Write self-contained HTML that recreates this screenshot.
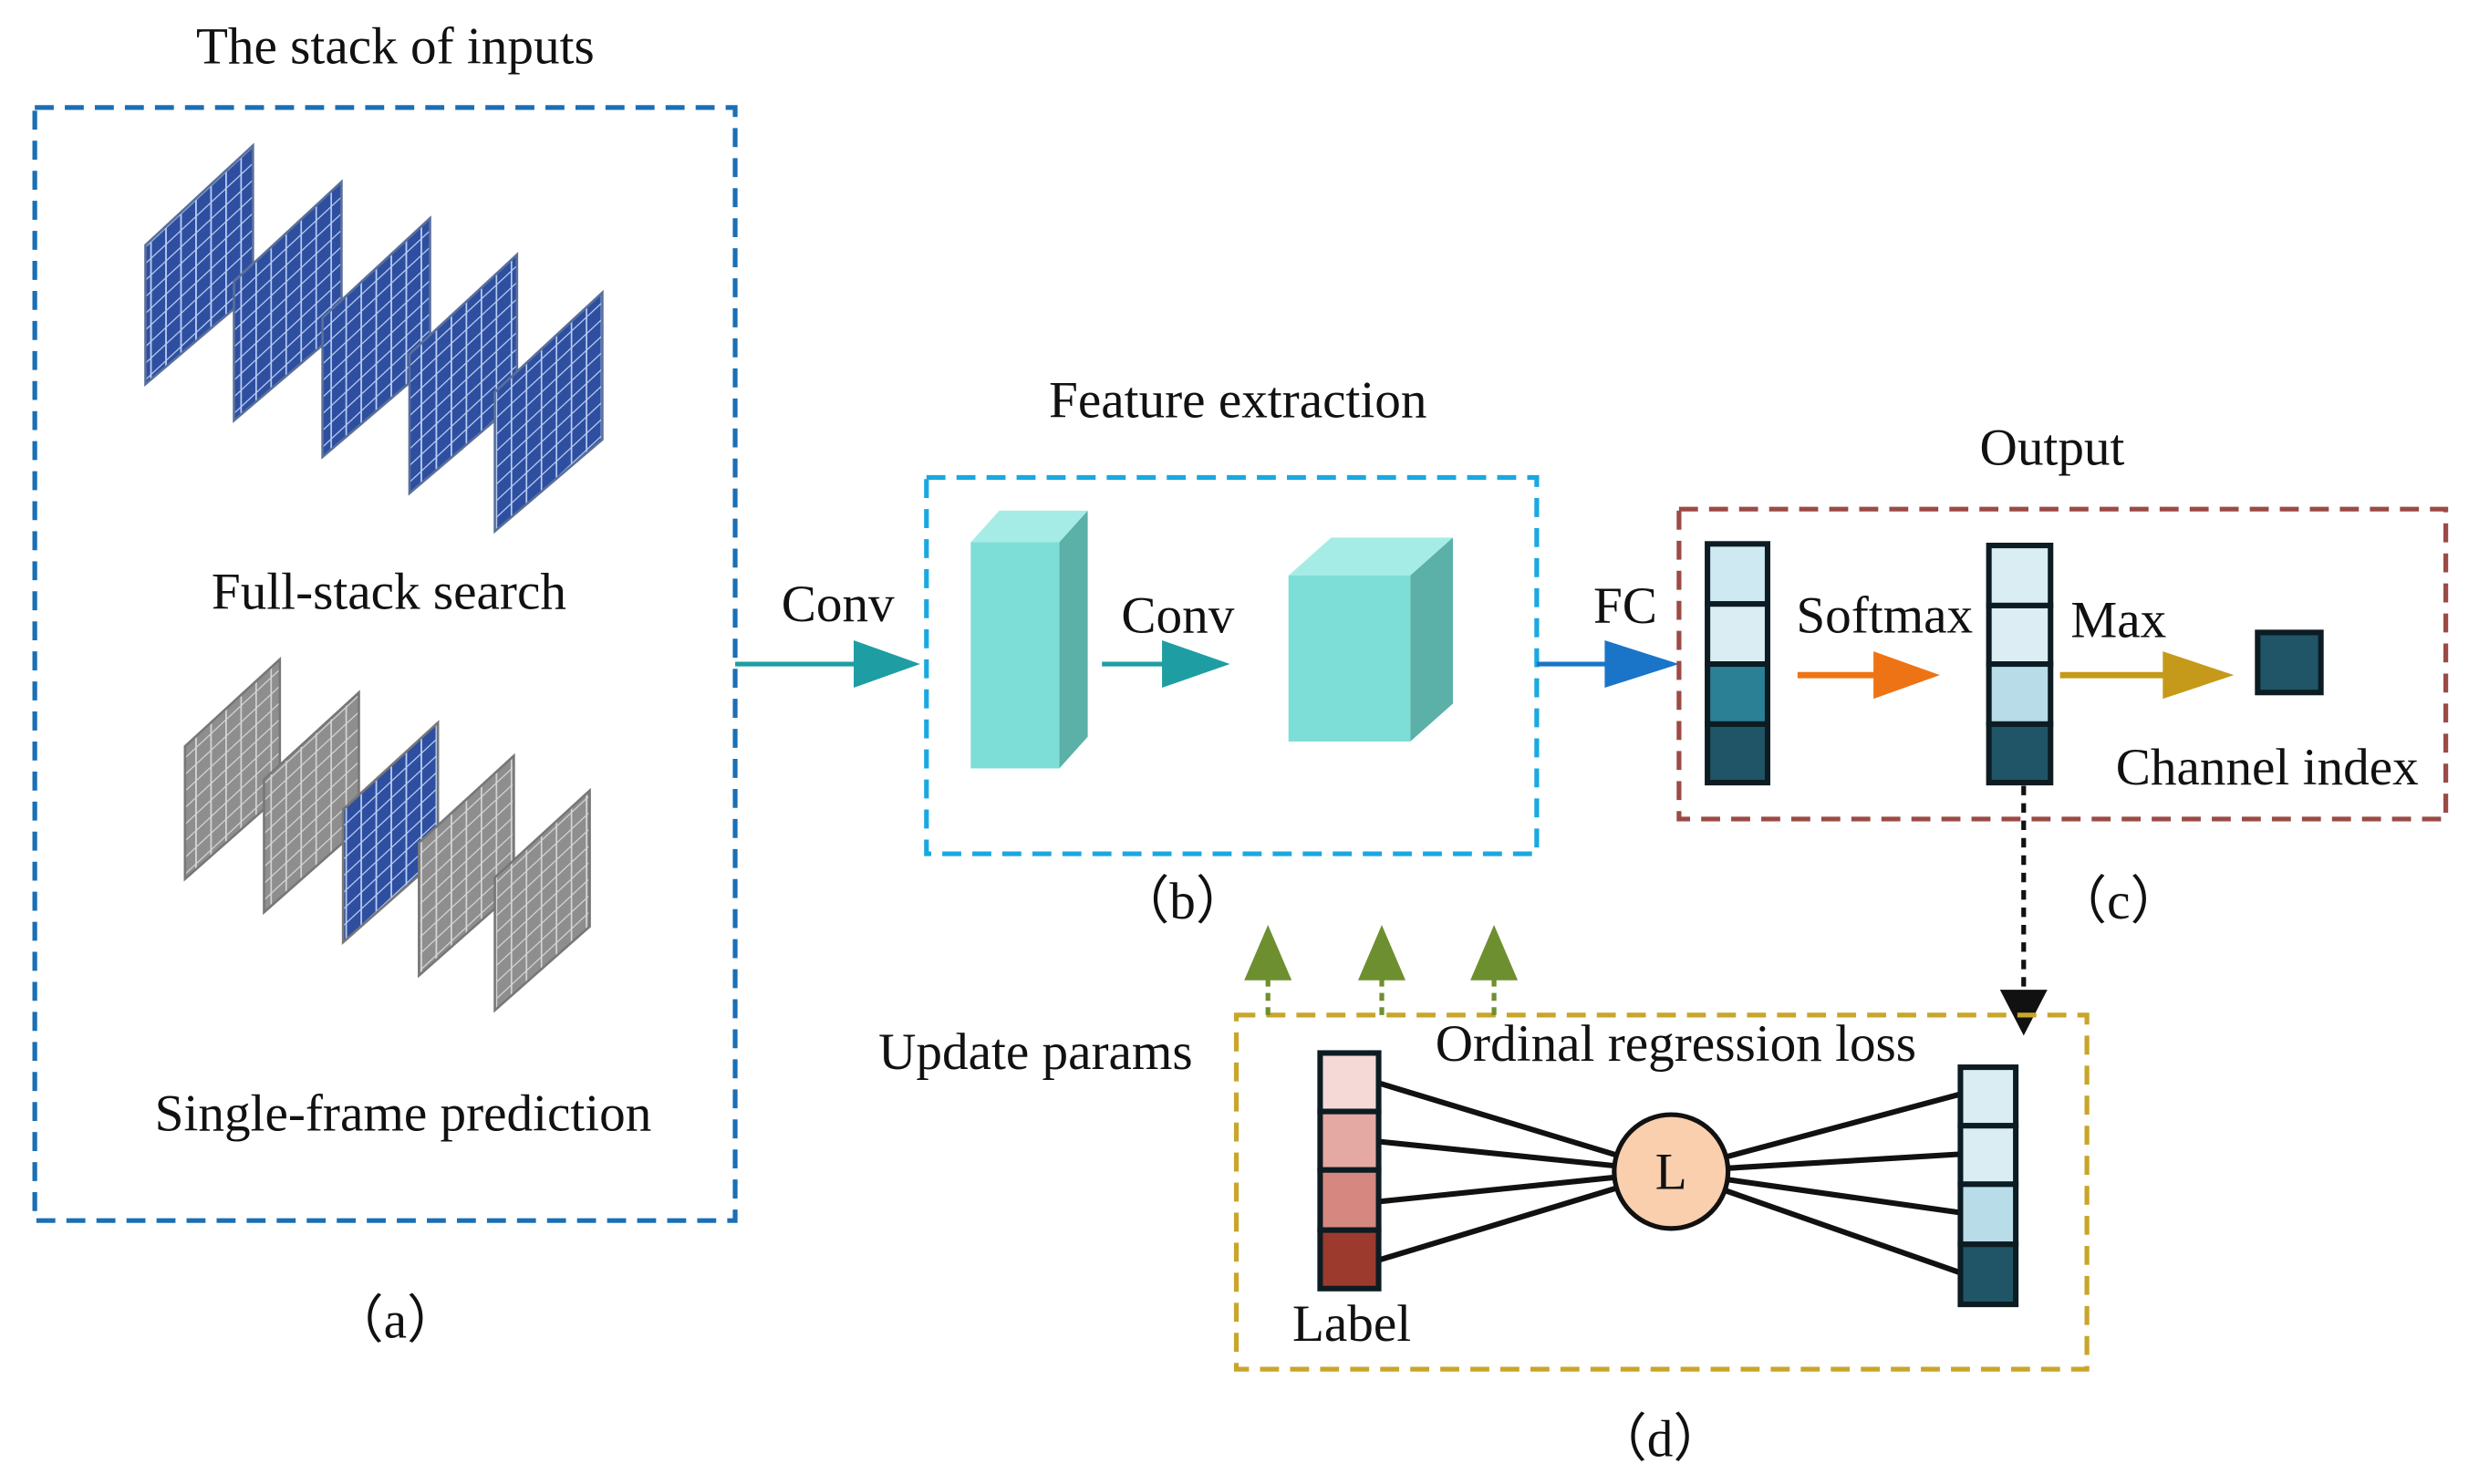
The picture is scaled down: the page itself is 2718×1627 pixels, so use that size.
<!DOCTYPE html>
<html><head><meta charset="utf-8"><style>
html,body{margin:0;padding:0;background:#fff}
svg{display:block}
text{font-family:"Liberation Serif",serif;font-size:33px;fill:#111}
</style></head><body>
<svg width="2718" height="1627" viewBox="0 0 1568 938.6" preserveAspectRatio="none">
<defs>
<pattern id="gb" width="9.5" height="10.5" patternUnits="userSpaceOnUse" patternTransform="skewY(-43)">
<rect width="9.5" height="10.5" fill="#2e4fa0"/><path d="M0 0H9.5M0 0V10.5" stroke="#b8ccf2" stroke-width="2"/></pattern>
<pattern id="gg" width="9.5" height="10.5" patternUnits="userSpaceOnUse" patternTransform="skewY(-43)">
<rect width="9.5" height="10.5" fill="#8e8e8e"/><path d="M0 0H9.5M0 0V10.5" stroke="#d4d4d4" stroke-width="2"/></pattern>
</defs>
<rect width="1568" height="939" fill="#fff"/>
<!-- (a) -->
<text x="250" y="40" text-anchor="middle">The stack of inputs</text>
<rect x="22" y="68" width="443" height="704" fill="none" stroke="#1a6fb5" stroke-width="3" stroke-dasharray="12,7"/>
<g stroke="#5a6f9a" stroke-width="1.5">
<polygon points="92,155 160,92 160,185 92,243" fill="url(#gb)"/>
<polygon points="148,178 216,115 216,208 148,266" fill="url(#gb)"/>
<polygon points="204,201 272,138 272,231 204,289" fill="url(#gb)"/>
<polygon points="259,224 327,161 327,254 259,312" fill="url(#gb)"/>
<polygon points="313,248 381,185 381,278 313,336" fill="url(#gb)"/>
</g>
<text x="246" y="385" text-anchor="middle">Full-stack search</text>
<g stroke="#777" stroke-width="1.5">
<polygon points="117,472 177,417 177,503 117,556" fill="url(#gg)"/>
<polygon points="167,493 227,438 227,524 167,577" fill="url(#gg)"/>
<polygon points="217,512 277,457 277,543 217,596" fill="url(#gb)"/>
<polygon points="265,533 325,478 325,564 265,617" fill="url(#gg)"/>
<polygon points="313,555 373,500 373,586 313,639" fill="url(#gg)"/>
</g>
<text x="255" y="715" text-anchor="middle">Single-frame prediction</text>
<text x="250" y="846" text-anchor="middle">（a）</text>
<!-- conv arrow -->
<line x1="465" y1="420" x2="545" y2="420" stroke="#1e9ea3" stroke-width="3"/>
<polygon points="540,405 582,420 540,435" fill="#1e9ea3"/>
<text x="530" y="393" text-anchor="middle">Conv</text>
<!-- (b) -->
<text x="783" y="264" text-anchor="middle">Feature extraction</text>
<rect x="586" y="302" width="386" height="238" fill="none" stroke="#1aa8e0" stroke-width="3" stroke-dasharray="12,7"/>
<polygon points="614,343 632,323 688,323 670,343" fill="#a6ece6"/>
<polygon points="670,343 688,323 688,466 670,486" fill="#5bb0a8"/>
<rect x="614" y="343" width="56" height="143" fill="#7dded7"/>
<line x1="697" y1="420" x2="740" y2="420" stroke="#1e9ea3" stroke-width="3"/>
<polygon points="735,405 778,420 735,435" fill="#1e9ea3"/>
<text x="745" y="400" text-anchor="middle">Conv</text>
<polygon points="815,364 842,340 919,340 892,364" fill="#a6ece6"/>
<polygon points="892,364 919,340 919,445 892,469" fill="#5bb0a8"/>
<rect x="815" y="364" width="77" height="105" fill="#7dded7"/>
<text x="748" y="581" text-anchor="middle">（b）</text>
<!-- FC -->
<line x1="972" y1="420" x2="1020" y2="420" stroke="#1a75c8" stroke-width="3"/>
<polygon points="1015,405 1062,420 1015,435" fill="#1a75c8"/>
<text x="1028" y="394" text-anchor="middle">FC</text>
<!-- (c) -->
<text x="1298" y="294" text-anchor="middle">Output</text>
<rect x="1062" y="322" width="485" height="196" fill="none" stroke="#9b4a45" stroke-width="3" stroke-dasharray="12,7"/>
<g stroke="#0c1c22" stroke-width="3.5">
<rect x="1080" y="344" width="38" height="38" fill="#cfe9f2"/>
<rect x="1080" y="382" width="38" height="38" fill="#d9edf3"/>
<rect x="1080" y="420" width="38" height="38" fill="#2b8096"/>
<rect x="1080" y="458" width="38" height="37" fill="#1f5566"/>
<rect x="1258" y="345" width="39" height="38" fill="#d9edf3"/>
<rect x="1258" y="383" width="39" height="37" fill="#dceef4"/>
<rect x="1258" y="420" width="39" height="38" fill="#b8dde9"/>
<rect x="1258" y="458" width="39" height="37" fill="#1f5566"/>
<rect x="1428" y="400" width="40" height="38" fill="#1f5566"/>
</g>
<text x="1192" y="400" text-anchor="middle">Softmax</text>
<line x1="1137" y1="427" x2="1190" y2="427" stroke="#ee7314" stroke-width="4"/>
<polygon points="1185,412 1227,427 1185,442" fill="#ee7314"/>
<text x="1340" y="403" text-anchor="middle">Max</text>
<line x1="1303" y1="427" x2="1370" y2="427" stroke="#c59a1a" stroke-width="4"/>
<polygon points="1368,412 1413,427 1368,442" fill="#c59a1a"/>
<text x="1434" y="496" text-anchor="middle">Channel index</text>
<text x="1340" y="581" text-anchor="middle">（c）</text>
<line x1="1280" y1="497" x2="1280" y2="628" stroke="#111" stroke-width="3" stroke-dasharray="6,5"/>
<polygon points="1265,626 1295,626 1280,655" fill="#111"/>
<!-- (d) -->
<rect x="782" y="642" width="538" height="224" fill="none" stroke="#c9a52a" stroke-width="3" stroke-dasharray="12,7"/>
<g stroke="#6e8f2f" stroke-width="3" stroke-dasharray="5,4">
<line x1="802" y1="642" x2="802" y2="615"/><line x1="874" y1="642" x2="874" y2="615"/><line x1="945" y1="642" x2="945" y2="615"/>
</g>
<g fill="#6e8f2f">
<polygon points="787,620 817,620 802,585"/><polygon points="859,620 889,620 874,585"/><polygon points="930,620 960,620 945,585"/>
</g>
<text x="655" y="676" text-anchor="middle">Update params</text>
<text x="1060" y="671" text-anchor="middle">Ordinal regression loss</text>
<g stroke="#111" stroke-width="3.5">
<line x1="872" y1="685" x2="1057" y2="741"/><line x1="872" y1="722" x2="1057" y2="741"/>
<line x1="872" y1="760" x2="1057" y2="741"/><line x1="872" y1="797" x2="1057" y2="741"/>
<line x1="1240" y1="692" x2="1057" y2="741"/><line x1="1240" y1="730" x2="1057" y2="741"/>
<line x1="1240" y1="767" x2="1057" y2="741"/><line x1="1240" y1="805" x2="1057" y2="741"/>
</g>
<g stroke="#0c1c22" stroke-width="3.5">
<rect x="835" y="666" width="37" height="37" fill="#f4d9d6"/>
<rect x="835" y="703" width="37" height="37" fill="#e5a9a3"/>
<rect x="835" y="740" width="37" height="38" fill="#d68880"/>
<rect x="835" y="778" width="37" height="37" fill="#9c3a2e"/>
<rect x="1240" y="675" width="35" height="37" fill="#d9edf3"/>
<rect x="1240" y="712" width="35" height="37" fill="#d9edf3"/>
<rect x="1240" y="749" width="35" height="38" fill="#b8dde9"/>
<rect x="1240" y="787" width="35" height="38" fill="#1f5566"/>
</g>
<circle cx="1057" cy="741" r="36" fill="#f9cfad" stroke="#111" stroke-width="3"/>
<text x="1057" y="752" text-anchor="middle">L</text>
<text x="855" y="848" text-anchor="middle">Label</text>
<text x="1050" y="921" text-anchor="middle">（d）</text>
</svg>
</body></html>
